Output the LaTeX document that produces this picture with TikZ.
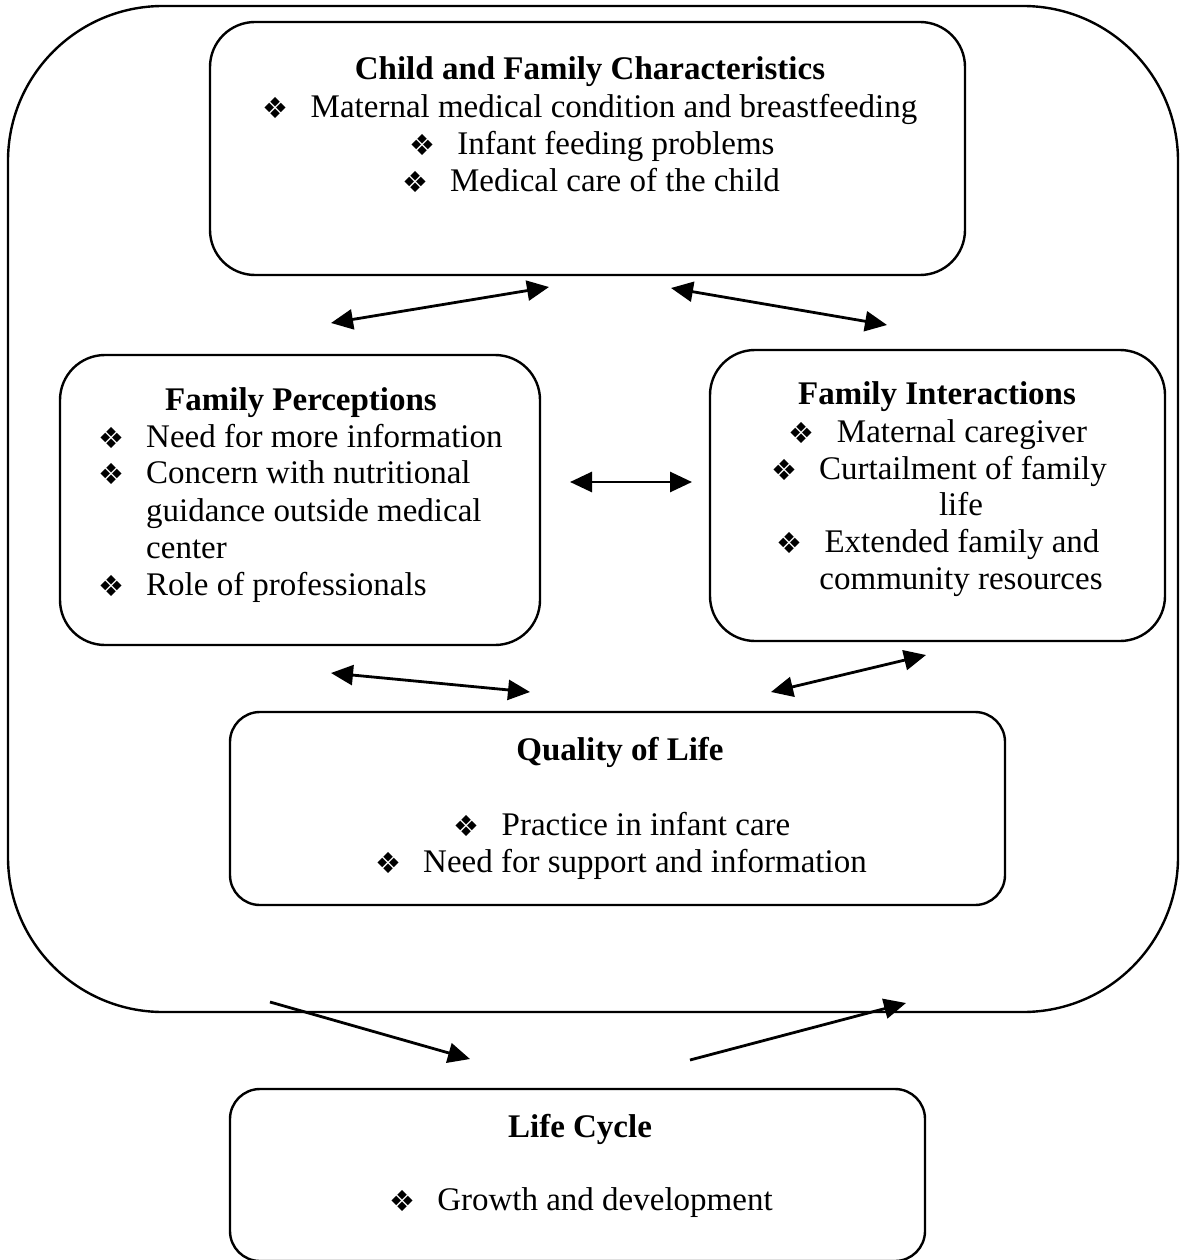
\documentclass[tikz,border=0pt]{standalone}
\usepackage{fontspec}
\setmainfont{Liberation Serif}
\newfontfamily\dejavu{DejaVu Sans}
\usetikzlibrary{arrows.meta}
\newcommand\bul{\makebox[48pt][l]{\fontsize{29}{29}\dejavu\raisebox{-1pt}{❖}}}
\tikzset{
  box/.style={draw=black, line width=2.4pt, rounded corners=#1, inner sep=0pt},
  box/.default=45pt,
  txt/.style={inner sep=0pt, font=\fontsize{33}{37}\selectfont},
  ttl/.style={inner sep=0pt, font=\fontsize{33}{37}\selectfont\bfseries},
  darr/.style={line width=2.8pt, {Triangle[length=22pt,width=20pt]}-{Triangle[length=22pt,width=20pt]}},
  sarr/.style={line width=2.8pt, -{Triangle[length=22pt,width=20pt]}},
}
\begin{document}
\begin{tikzpicture}[x=1pt,y=-1pt]
\useasboundingbox (0,0) rectangle (1180,1260);
% outer frame
\node[box=155pt, minimum width=1170pt, minimum height=1006pt] (outer) at (593,509) {};
% boxes
\node[box=45pt, minimum width=755pt, minimum height=253pt] (cfc) at (587.5,148.5) {};
\node[box=45pt, minimum width=480pt, minimum height=290pt] (fp) at (300,500) {};
\node[box=45pt, minimum width=455pt, minimum height=291pt] (fi) at (937.5,495.5) {};
\node[box=30pt, minimum width=775pt, minimum height=193pt] (qol) at (617.5,808.5) {};
\node[box=30pt, minimum width=695pt, minimum height=172pt] (lc) at (577.5,1175) {};
% Child and Family Characteristics
\node[ttl, anchor=base] (t0) at (590,80) {Child and Family Characteristics};
\node[txt, anchor=base] (t1) at (590,118) {\bul Maternal medical condition and breastfeeding};
\node[txt, anchor=base] (t2) at (592,155) {\bul Infant feeding problems};
\node[txt, anchor=base] (t3) at (591,192) {\bul Medical care of the child};
% Family Perceptions
\node[ttl, anchor=base] (p0) at (301,410) {Family Perceptions};
\node[txt, anchor=base west] (p1) at (98,447) {\bul Need for more information};
\node[txt, anchor=base west] (p2) at (98,483) {\bul Concern with nutritional};
\node[txt, anchor=base west] (p3) at (146,521) {guidance outside medical};
\node[txt, anchor=base west] (p4) at (146,558) {center};
\node[txt, anchor=base west] (p5) at (98,595) {\bul Role of professionals};
% Family Interactions
\node[ttl, anchor=base] (i0) at (937,404) {Family Interactions};
\node[txt, anchor=base] (i1) at (938,442) {\bul Maternal caregiver};
\node[txt, anchor=base] (i2) at (939,479) {\bul Curtailment of family};
\node[txt, anchor=base] (i3) at (961,515) {life};
\node[txt, anchor=base] (i4) at (938,552) {\bul Extended family and};
\node[txt, anchor=base] (i5) at (961,589) {community resources};
% Quality of Life
\node[ttl, anchor=base] (q0) at (620,760) {Quality of Life};
\node[txt, anchor=base] (q1) at (622,835) {\bul Practice in infant care};
\node[txt, anchor=base] (q2) at (621,872) {\bul Need for support and information};
% Life Cycle
\node[ttl, anchor=base] (l0) at (580,1137) {Life Cycle};
\node[txt, anchor=base] (l1) at (581,1210) {\bul Growth and development};
% arrow end points
\coordinate (a1s) at (331,323); \coordinate (a1e) at (549,287);
\coordinate (a2s) at (671,288); \coordinate (a2e) at (887,325);
\coordinate (a3s) at (570,482); \coordinate (a3e) at (692,482);
\coordinate (a4s) at (331,673); \coordinate (a4e) at (530,692);
\coordinate (a5s) at (771,692); \coordinate (a5e) at (926,655);
\coordinate (a6s) at (270,1002); \coordinate (a6e) at (470,1059);
\coordinate (a7s) at (690,1060); \coordinate (a7e) at (906,1003);
\draw[darr] (a1s) -- (a1e);
\draw[darr] (a2s) -- (a2e);
\draw[darr] (a3s) -- (a3e);
\draw[darr] (a4s) -- (a4e);
\draw[darr] (a5s) -- (a5e);
\draw[sarr] (a6s) -- (a6e);
\draw[sarr] (a7s) -- (a7e);
\end{tikzpicture}
\end{document}
